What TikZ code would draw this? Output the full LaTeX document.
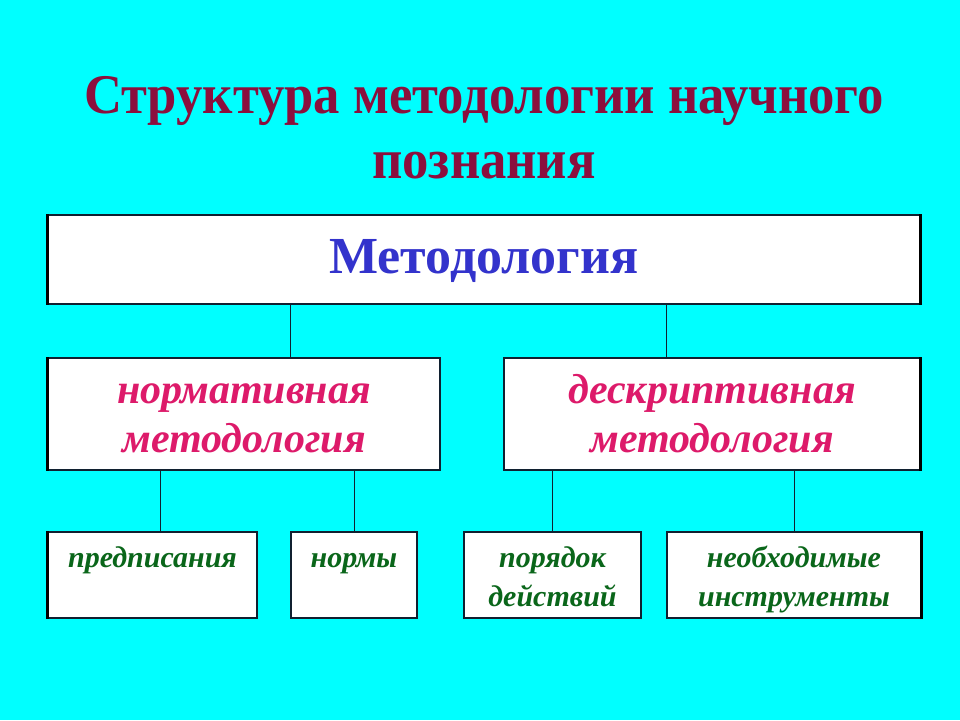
\documentclass[tikz,border=0pt]{standalone}
\usepackage{fontspec}
\setmainfont{Liberation Serif}
\newfontfamily\titlefont[FakeStretch=0.94]{Liberation Serif Bold}
\usepackage{xcolor}
\usepackage{tikz}
\usetikzlibrary{positioning}

\definecolor{slidebg}{HTML}{00FFFF}
\definecolor{titlered}{HTML}{8B0F3D}
\definecolor{methblue}{HTML}{3333CC}
\definecolor{kindpink}{HTML}{DD1A6A}
\definecolor{partgreen}{HTML}{0A661A}
\definecolor{edge}{HTML}{102030}

% fixed line height / depth, so every box sets its text alike
\newcommand{\tallstrut}[1]{\rule{0pt}{#1}}
\newcommand{\deepstrut}[1]{\rule[-#1]{0pt}{#1}}

\begin{document}
\begin{tikzpicture}[x=1pt, y=-1pt,
        box/.style={rectangle, draw=edge, line width=1.2pt, fill=white, inner sep=0pt, align=center},
        kind/.style={box, minimum height=112pt, text=kindpink, font=\fontsize{42}{49}\selectfont\bfseries\itshape},
        part/.style={box, minimum height=86pt, text=partgreen, font=\fontsize{30}{39}\selectfont\bfseries\itshape},
        link/.style={draw=edge, line width=1pt},
        rim/.style={draw=black, line width=3pt}
    ]
        \fill[slidebg] (0,0) rectangle (960,720);
        \useasboundingbox (0,0) rectangle (960,720);

        \node[text=titlered, align=center, inner sep=0pt, font=\titlefont\fontsize{56}{65}\selectfont] (title) at (484,131.5) {\tallstrut{40pt}Структура методологии научного\\познания\deepstrut{12pt}};

        \node[box, minimum width=872pt, minimum height=89pt, text=methblue, font=\fontsize{52}{60}\selectfont\bfseries] (meth) at (484,259.5) {\tallstrut{40pt}Методология\deepstrut{13pt}};

        \node[kind, minimum width=392pt] (norm) at (244,414) {\tallstrut{39pt}нормативная\\методология\deepstrut{12pt}};
        \node[kind, minimum width=416pt] (descr) at (712,414) {\tallstrut{39pt}дескриптивная\\методология\deepstrut{12pt}};

        \node[part, minimum width=209pt] (presc) at (152.5,575) {\tallstrut{32pt}предписания\\\deepstrut{9pt}};
        \node[part, minimum width=126pt] (norms) at (354,575) {\tallstrut{32pt}нормы\\\deepstrut{9pt}};
        \node[part, minimum width=177pt] (order) at (552.5,575) {\tallstrut{32pt}порядок\\действий\deepstrut{9pt}};
        \node[part, minimum width=254pt] (tools) at (794,575) {\tallstrut{32pt}необходимые\\инструменты\deepstrut{9pt}};

        % connectors
        \draw[link] (meth.south -| norms.west) -- (norms.west |- norm.north);
        \draw[link] (meth.south -| tools.west) -- (tools.west |- descr.north);
        \draw[link] ([xshift=8pt]presc.north) -- ([xshift=8pt]presc.north |- norm.south);
        \draw[link] (norms.north) -- (norms.north |- norm.south);
        \draw[link] (order.north) -- (order.north |- descr.south);
        \draw[link] (tools.north) -- (tools.north |- descr.south);

        % dark outer rims
        \draw[rim] (meth.north west) -- (meth.south west);
        \draw[rim] (meth.north east) -- (meth.south east);
        \draw[rim] (norm.north west) -- (norm.south west);
        \draw[rim] (descr.north east) -- (descr.south east);
        \draw[rim] (presc.north west) -- (presc.south west);
        \draw[rim] (tools.north east) -- (tools.south east);
    \end{tikzpicture}
\end{document}
